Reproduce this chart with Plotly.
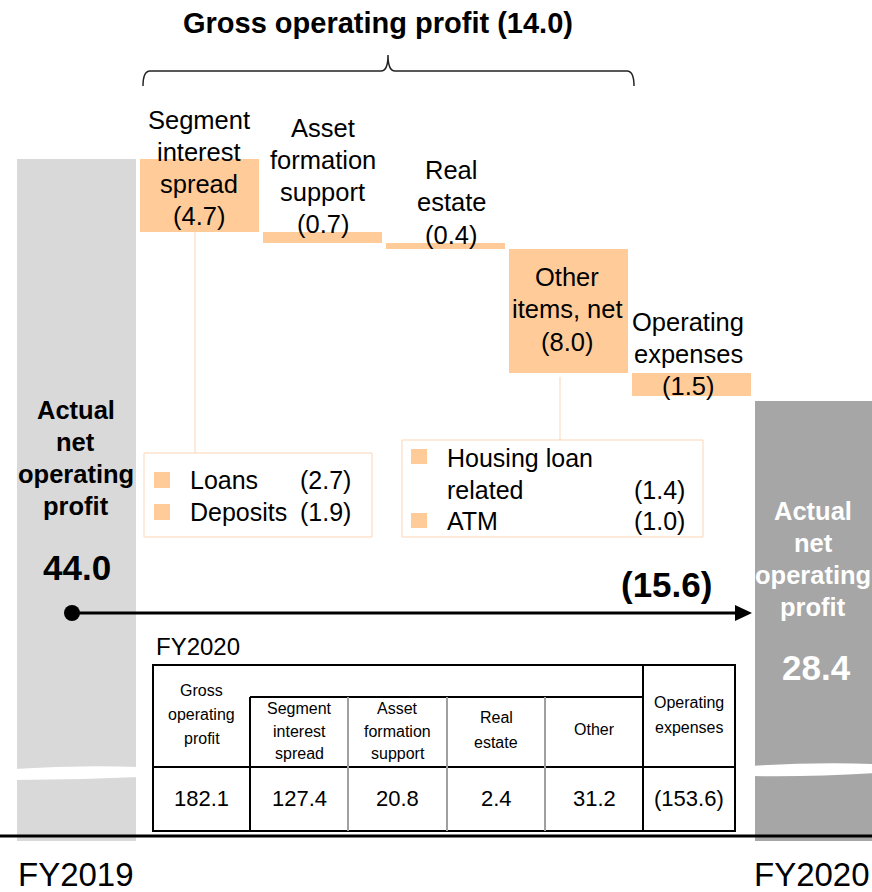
import numpy as np
import plotly.graph_objects as go

# ---------------- data ----------------
categories = ["FY2019", "Segment interest spread", "Asset formation support",
              "Real estate", "Other items, net", "Operating expenses", "FY2020"]
start_value = 44.0
end_value = 28.4
delta_labels = [["Segment", "interest", "spread"], ["Asset", "formation", "support"],
                ["Real", "estate"], ["Other", "items, net"], ["Operating", "expenses"]]
deltas = [-4.7, -0.7, -0.4, -8.0, -1.5]
gross_change = -14.0
total_change = -15.6

seg_items = ["Loans", "Deposits"]
seg_values = [-2.7, -1.9]
other_items = ["Housing loan<br>related", "ATM"]
other_values = [-1.4, -1.0]

table_title = "FY2020"
table_headers = [["Gross", "operating", "profit"], ["Segment", "interest", "spread"],
                 ["Asset", "formation", "support"], ["Real", "estate"], ["Other"],
                 ["Operating", "expenses"]]
table_values = [182.1, 127.4, 20.8, 2.4, 31.2, -153.6]


def fmt(v):
    return "(%.1f)" % abs(v) if v < 0 else "%.1f" % v


# ---------------- layout constants ----------------
W, H = 872, 892
FONT = "Liberation Sans, Arial, sans-serif"
ZERO_PY = 841.0
PX_PER_UNIT = 15.5
X0_PX, STEP_PX, BAR_PX = 76.5, 123.0, 119.0
ORANGE = "#FFCC99"
ORANGE_LINE = "#FBD5B5"

levels = start_value + np.cumsum(deltas)
bases = np.concatenate([[start_value], levels[:-1]])

fig = go.Figure()
fig.add_trace(go.Bar(x=[categories[0], categories[-1]], y=[start_value, end_value],
                     marker=dict(color=["#D9D9D9", "#A6A6A6"], line=dict(width=0)),
                     width=BAR_PX / STEP_PX, hoverinfo="skip"))
fig.add_trace(go.Bar(x=categories[1:-1], y=deltas, base=bases,
                     marker=dict(color=ORANGE, line=dict(width=0)),
                     width=BAR_PX / STEP_PX, hoverinfo="skip"))


def X(px):
    return px / W


def Y(py):
    return 1 - py / H


def txt(x, y, s, size, color="black", bold=False, anchor="center", family=FONT):
    fig.add_annotation(x=X(x), y=Y(y), xref="paper", yref="paper",
                       text=("<b>%s</b>" % s) if bold else s, showarrow=False,
                       xanchor=anchor, yanchor="middle", borderpad=0,
                       font=dict(size=size, color=color, family=family))


def lines(x, ys, parts, size, **kw):
    for yy, p in zip(ys, parts):
        txt(x, yy, p, size, **kw)


def line(x0, y0, x1, y1, color="black", width=2):
    fig.add_shape(type="line", xref="paper", yref="paper", x0=X(x0), y0=Y(y0),
                  x1=X(x1), y1=Y(y1), line=dict(color=color, width=width))


def rect(x0, y0, x1, y1, fill=None, color=None, width=0):
    fig.add_shape(type="rect", xref="paper", yref="paper", x0=X(x0), y0=Y(y0),
                  x1=X(x1), y1=Y(y1), fillcolor=fill or "rgba(0,0,0,0)",
                  line=dict(color=color or "rgba(0,0,0,0)", width=width))


def path(pts, fill=None, color=None, width=0):
    d = ""
    for p in pts:
        cmd = p[0]
        coords = p[1:]
        d += cmd + " " + " ".join("%.5f,%.5f" % (X(coords[i]), Y(coords[i + 1]))
                                  for i in range(0, len(coords), 2)) + " "
    fig.add_shape(type="path", xref="paper", yref="paper", path=d.strip(),
                  fillcolor=fill or "rgba(0,0,0,0)",
                  line=dict(color=color or "rgba(0,0,0,0)", width=width))


# title and brace
txt(378, 23, "Gross operating profit %s" % fmt(gross_change), 29, bold=True)
path([("M", 143, 86), ("Q", 143, 71, 150, 71), ("L", 381, 71), ("Q", 388, 71, 388, 55),
      ("Q", 388, 71, 395, 71), ("L", 627, 71), ("Q", 634, 71, 634, 86)],
     color="#222222", width=1.5)

# delta labels
label_pos = [(198.5, [120, 152, 184, 216]), (322.5, [128, 160, 192, 224]),
             (451, [170, 202, 235]), (567, [277, 309, 342]), (688, [322, 354, 386])]
for (lx, ys), parts, d in zip(label_pos, delta_labels, deltas):
    lines(lx, ys, parts + [fmt(d)], 25.5)

# total bar labels
lines(75.5, [410, 442, 474, 506], ["Actual", "net", "operating", "profit"], 25.5, bold=True)
txt(77, 567, "%.1f" % start_value, 35, bold=True)
lines(813, [511, 543, 575, 607], ["Actual", "net", "operating", "profit"], 25.5,
      bold=True, color="white")
txt(816, 667, "%.1f" % end_value, 35, bold=True, color="white")

# breaks in the total bars
path([("M", 14, 769), ("Q", 76, 765, 139, 767), ("L", 139, 777), ("Q", 76, 780, 14, 780), ("Z",)],
     fill="white")
path([("M", 752, 766), ("Q", 812, 762, 875, 764), ("L", 875, 773), ("Q", 812, 777, 752, 776), ("Z",)],
     fill="white")

# connectors
line(195, 232, 195, 453, color=ORANGE_LINE, width=1)
line(560, 377, 560, 440, color=ORANGE_LINE, width=1)

# breakdown boxes
rect(144, 453, 372, 537, color=ORANGE_LINE, width=1)
for i, (name, v) in enumerate(zip(seg_items, seg_values)):
    yy = 480 + 32 * i
    rect(154, yy - 8, 170, yy + 8, fill=ORANGE)
    txt(189, yy, name, 25, anchor="left")
    txt(352, yy, fmt(v), 25, anchor="right")

rect(402, 440, 703, 537, color=ORANGE_LINE, width=1)
rect(411, 449, 427, 464, fill=ORANGE)
rect(411, 513, 427, 528, fill=ORANGE)
hl = other_items[0].split("<br>")
txt(446, 458, hl[0], 25, anchor="left")
txt(446, 490, hl[1], 25, anchor="left")
txt(686, 490, fmt(other_values[0]), 25, anchor="right")
txt(446, 521, other_items[1], 25, anchor="left")
txt(686, 521, fmt(other_values[1]), 25, anchor="right")

# total change arrow
txt(666.5, 584, fmt(total_change), 35, bold=True)
line(72, 613, 738, 613, width=3)
fig.add_shape(type="circle", xref="paper", yref="paper", x0=X(64), y0=Y(605),
              x1=X(80), y1=Y(621), fillcolor="black", line=dict(width=0))
path([("M", 735, 605), ("L", 752, 613), ("L", 735, 621), ("Z",)], fill="black")

# table
txt(155, 646, table_title, 24, anchor="left")
col_x = [153, 250, 348, 447, 545, 643, 735]
T0, TM, TH, T1 = 665, 697, 767, 831
rect(col_x[0], T0, col_x[-1], T1, color="black", width=2)
line(col_x[1], TM, col_x[5], TM)
line(col_x[1], TM, col_x[1], T1)
line(col_x[5], T0, col_x[5], T1)
line(col_x[0], TH, col_x[-1], TH)
for cx in col_x[2:5]:
    line(cx, TM, cx, T1, color="#A0A0A0", width=2)
header_ys = [[690, 714, 738], [708, 731, 753], [708, 731, 753], [717, 742], [729], [702, 727]]
for i, (hdr, ys, v) in enumerate(zip(table_headers, header_ys, table_values)):
    cx = (col_x[i] + col_x[i + 1]) / 2
    lines(cx, ys, hdr, 16)
    txt(cx, 798, fmt(v), 22)

# baseline and year labels
line(0, 836, W, 836, width=3)
txt(75.5, 874, categories[0], 33)
txt(812, 874, categories[-1], 33)

fig.update_layout(
    width=W, height=H, margin=dict(l=0, r=0, t=0, b=0),
    paper_bgcolor="white", plot_bgcolor="white", showlegend=False, bargap=0,
    xaxis=dict(visible=False, type="category", categoryorder="array",
               categoryarray=categories,
               range=[-X0_PX / STEP_PX, (W - X0_PX) / STEP_PX]),
    yaxis=dict(visible=False, range=[(ZERO_PY - H) / PX_PER_UNIT, ZERO_PY / PX_PER_UNIT]),
)
fig.write_html("out.html", config={"displayModeBar": False},
               post_script="document.body.style.margin='0';document.body.style.overflow='hidden';")
